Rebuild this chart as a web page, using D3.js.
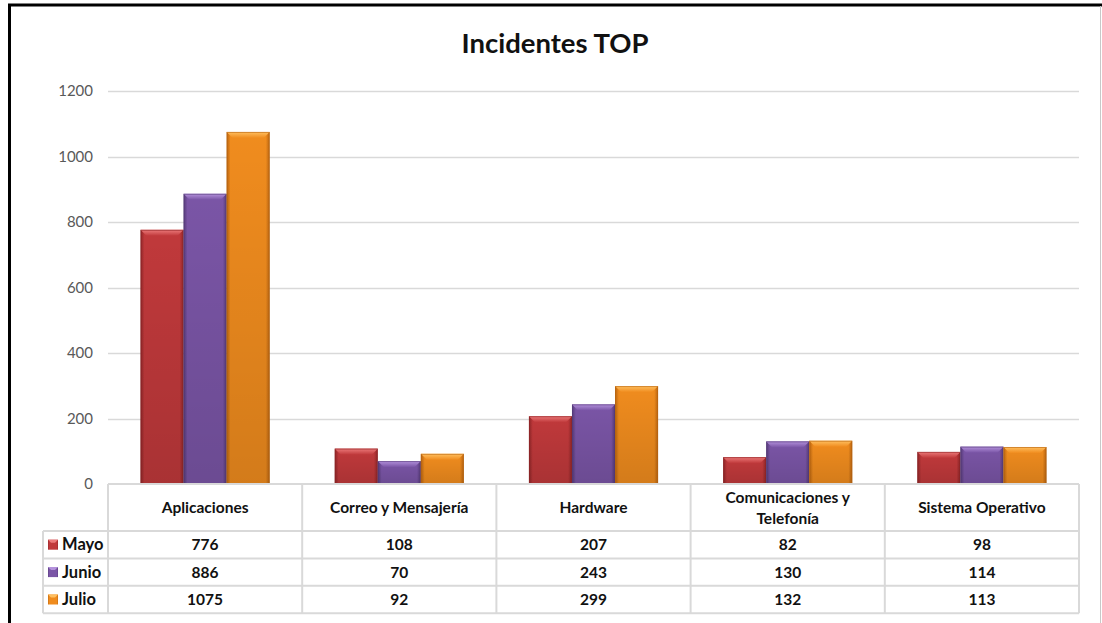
<!DOCTYPE html>
<html>
<head>
<meta charset="utf-8">
<script src="https://cdn.jsdelivr.net/npm/d3@7"></script>
<style>
  html, body { margin: 0; padding: 0; background: #fff; }
  svg { display: block; }
  text { font-family: Lato, "Open Sans", sans-serif; }
</style>
</head>
<body>
<svg id="chart" width="1102" height="623"></svg>
<script>
// Incident categories and monthly counts
const categories = ["Aplicaciones", "Correo y Mensajería", "Hardware", "Comunicaciones y Telefonía", "Sistema Operativo"];
const categoryLines = [["Aplicaciones"], ["Correo y Mensajería"], ["Hardware"], ["Comunicaciones y", "Telefonía"], ["Sistema Operativo"]];
const seriesNames = ["Mayo", "Junio", "Julio"];
const mayo  = [776, 108, 207, 82, 98];
const junio = [886, 70, 243, 130, 114];
const julio = [1075, 92, 299, 132, 113];
const yTicks = [0, 200, 400, 600, 800, 1000, 1200];
const seriesColors = ["#c0393b", "#7a55a6", "#f08c1e"];
const seriesLight  = ["#ec7a7a", "#b492dc", "#ffc060"];
const seriesDark   = ["#8e2527", "#553a78", "#b86410"];

const values = [mayo, junio, julio];

const svg = d3.select("#chart");
const W = 1102, H = 623;

const plot = { left: 108, right: 1079, top: 91, bottom: 484 };

const x = d3.scaleBand().domain(categories).range([plot.left, plot.right]).padding(0);
const xs = d3.scaleBand().domain(seriesNames)
  .range([x.bandwidth() * 0.1675, x.bandwidth() * 0.8325]).padding(0);
const y = d3.scaleLinear().domain([0, 1200]).range([plot.bottom, plot.top]);

// Gradients for the bevelled bars
const defs = svg.append("defs");
seriesNames.forEach((s, i) => {
  const g = defs.append("linearGradient").attr("id", "body" + i)
    .attr("x1", 0).attr("x2", 1).attr("y1", 0).attr("y2", 0);
  g.append("stop").attr("offset", "0%").attr("stop-color", seriesDark[i]);
  g.append("stop").attr("offset", "9%").attr("stop-color", seriesColors[i]);
  g.append("stop").attr("offset", "91%").attr("stop-color", seriesColors[i]);
  g.append("stop").attr("offset", "100%").attr("stop-color", seriesDark[i]);
  const v = defs.append("linearGradient").attr("id", "shade" + i)
    .attr("x1", 0).attr("x2", 0).attr("y1", 0).attr("y2", 1);
  v.append("stop").attr("offset", "0%").attr("stop-color", "#000").attr("stop-opacity", 0);
  v.append("stop").attr("offset", "100%").attr("stop-color", "#000").attr("stop-opacity", 0.12);
  const t = defs.append("linearGradient").attr("id", "top" + i)
    .attr("x1", 0).attr("x2", 0).attr("y1", 0).attr("y2", 1);
  t.append("stop").attr("offset", "0%").attr("stop-color", seriesLight[i]);
  t.append("stop").attr("offset", "100%").attr("stop-color", seriesColors[i]);
});

// Frame
svg.append("rect").attr("x", 0).attr("y", 0).attr("width", W).attr("height", H).attr("fill", "#fff");
svg.append("line").attr("x1", 8).attr("x2", W).attr("y1", 5).attr("y2", 5)
  .attr("stroke", "#000").attr("stroke-width", 3);
svg.append("line").attr("x1", 9.5).attr("x2", 9.5).attr("y1", 4).attr("y2", H)
  .attr("stroke", "#000").attr("stroke-width", 3);
svg.append("line").attr("x1", 1100.5).attr("x2", 1100.5).attr("y1", 6).attr("y2", H)
  .attr("stroke", "#c8c8c8").attr("stroke-width", 1);

// Title
svg.append("text").attr("x", 555).attr("y", 53).attr("text-anchor", "middle")
  .attr("font-size", 27.5).attr("font-weight", "bold").attr("fill", "#111")
  .text("Incidentes TOP");

// Gridlines and y axis
const yAxis = d3.axisLeft(y).tickValues(yTicks).tickFormat(d3.format("d")).tickSize(0).tickPadding(15);
const gy = svg.append("g").attr("transform", `translate(${plot.left},0)`).call(yAxis);
gy.select(".domain").remove();
gy.selectAll("text").attr("font-size", 15).attr("fill", "#595959")
  .attr("font-family", "Lato, sans-serif");
svg.append("g").selectAll("line").data(yTicks.filter(d => d > 0)).join("line")
  .attr("x1", plot.left).attr("x2", plot.right)
  .attr("y1", d => Math.round(y(d)) + 0.5).attr("y2", d => Math.round(y(d)) + 0.5)
  .attr("stroke", "#d9d9d9").attr("stroke-width", 1.5);

// Bars
const bev = 6;
const groups = svg.append("g").selectAll("g").data(categories).join("g")
  .attr("transform", d => `translate(${x(d)},0)`);
seriesNames.forEach((s, i) => {
  const bars = groups.append("g").datum((c, ci) => ({ v: values[i][ci] }));
  const bx = xs(s), bw = xs.bandwidth();
  bars.append("rect").attr("x", bx).attr("width", bw)
    .attr("y", d => y(d.v)).attr("height", d => y(0) - y(d.v))
    .attr("fill", `url(#body${i})`);
  bars.append("rect").attr("x", bx).attr("width", bw)
    .attr("y", d => y(d.v)).attr("height", d => y(0) - y(d.v))
    .attr("fill", `url(#shade${i})`);
  bars.append("path")
    .attr("d", d => {
      const t = y(d.v);
      return `M${bx},${t} L${bx + bw},${t} L${bx + bw - bev},${t + bev} L${bx + bev},${t + bev} Z`;
    })
    .attr("fill", `url(#top${i})`);
  bars.append("rect").attr("x", bx + 0.5).attr("width", bw - 1)
    .attr("y", d => y(d.v) + 0.5).attr("height", d => y(0) - y(d.v) - 0.5)
    .attr("fill", "none").attr("stroke", seriesDark[i]).attr("stroke-opacity", 0.6).attr("stroke-width", 1);
});

// Data table
const rowTop = 531, rowH = 27.4;
const tableBottom = rowTop + rowH * 3;
const lineColor = "#d9d9d9";
const fs = 15.5;
const tg = svg.append("g");
// horizontal lines
tg.append("line").attr("x1", plot.left).attr("x2", plot.right).attr("y1", plot.bottom).attr("y2", plot.bottom)
  .attr("stroke", lineColor).attr("stroke-width", 2);
[0, 1, 2, 3].forEach(k => {
  tg.append("line").attr("x1", 43).attr("x2", plot.right)
    .attr("y1", rowTop + rowH * k).attr("y2", rowTop + rowH * k)
    .attr("stroke", lineColor).attr("stroke-width", 2);
});
// vertical lines
const vx = categories.map(c => x(c)).concat([plot.right]);
vx.forEach(px => {
  tg.append("line").attr("x1", px).attr("x2", px).attr("y1", plot.bottom).attr("y2", tableBottom)
    .attr("stroke", lineColor).attr("stroke-width", 2);
});
tg.append("line").attr("x1", 43).attr("x2", 43).attr("y1", rowTop).attr("y2", tableBottom)
  .attr("stroke", lineColor).attr("stroke-width", 2);

// header labels
categories.forEach((c, ci) => {
  const lines = categoryLines[ci];
  const cx = x(c) + x.bandwidth() / 2;
  const cy = (plot.bottom + rowTop) / 2;
  lines.forEach((ln, li) => {
    tg.append("text").attr("x", cx)
      .attr("y", cy + 5.5 + (li - (lines.length - 1) / 2) * 21)
      .attr("text-anchor", "middle").attr("font-size", fs).attr("font-weight", "bold")
      .attr("fill", "#111").text(ln);
  });
});

// rows with legend keys and values
seriesNames.forEach((s, i) => {
  const ry = rowTop + rowH * i;
  const k = 10, kx = 48, ky = ry + rowH / 2 - k / 2;
  tg.append("rect").attr("x", kx).attr("y", ky).attr("width", k).attr("height", k)
    .attr("fill", `url(#body${i})`);
  tg.append("path").attr("d", `M${kx},${ky} L${kx + k},${ky} L${kx + k - 3},${ky + 3} L${kx + 3},${ky + 3} Z`)
    .attr("fill", seriesLight[i]);
  tg.append("text").attr("x", 62).attr("y", ry + rowH / 2 + 5.5)
    .attr("font-size", 16.5).attr("font-weight", "bold").attr("fill", "#111").text(s);
  categories.forEach((c, ci) => {
    tg.append("text").attr("x", x(c) + x.bandwidth() / 2).attr("y", ry + rowH / 2 + 5.5)
      .attr("text-anchor", "middle").attr("font-size", fs).attr("font-weight", "bold")
      .attr("fill", "#111").text(values[i][ci]);
  });
});
</script>
</body>
</html>
